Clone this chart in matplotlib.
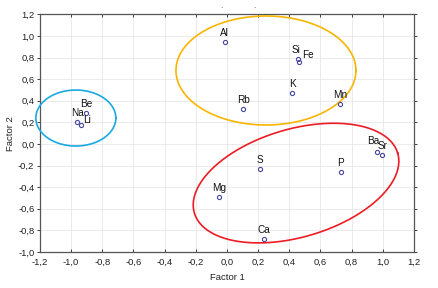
import numpy as np
import matplotlib
matplotlib.use('Agg')
import matplotlib.pyplot as plt

plt.rcParams['font.family'] = ['Liberation Sans', 'DejaVu Sans']

# factor loadings
elements = ['Be', 'Na', 'Li', 'Al', 'Si', 'Fe', 'K', 'Rb', 'Mn',
            'Ba', 'Sr', 'S', 'P', 'Mg', 'Ca']
factor1 = [-0.905, -0.96, -0.94, -0.015, 0.456, 0.462, 0.42, 0.103, 0.725,
           0.965, 0.997, 0.21, 0.73, -0.05, 0.237]
factor2 = [0.29, 0.20, 0.18, 0.94, 0.79, 0.76, 0.47, 0.325, 0.37,
           -0.076, -0.10, -0.23, -0.26, -0.495, -0.88]

# label offsets (points), default is straight above
label_offsets = {'Li': (4.5, 3.5), 'Si': (-1.2, 6.5), 'Fe': (6.4, 5.2),
                 'Ba': (-3.3, 8.0)}

# group outlines: centre (data), semi-axes (pixels), angle (deg), colour
groups = [
    ((-0.97, 0.24), 40, 28, 0, '#1ba9e1'),
    ((0.25, 0.68), 90, 54.5, 0, '#f7b500'),
    ((0.443, -0.362), 106, 54, 16.4, '#ec1c24'),
]

xticks = np.arange(-1.2, 1.21, 0.2)
yticks = np.arange(-1.0, 1.21, 0.2)


def fmt(v):
    return '{:.1f}'.format(v).replace('.', ',').replace('-0,0', '0,0')


fig = plt.figure(figsize=(4.38, 2.88), dpi=100)
ax = fig.add_axes([0.0913, 0.125, 0.8539, 0.8253])
ax.set_xlim(-1.2, 1.2)
ax.set_ylim(-1.0, 1.2)

# pixels per data unit, for drawing ellipses in screen shape
sx = 0.8539 * 438 / 2.4
sy = 0.8253 * 288 / 2.2
t = np.linspace(0, 2 * np.pi, 200)
for (cx, cy), a, b, ang, col in groups:
    th = np.radians(ang)
    dx = a * np.cos(t) * np.cos(th) - b * np.sin(t) * np.sin(th)
    dy = a * np.cos(t) * np.sin(th) + b * np.sin(t) * np.cos(th)
    ax.plot(cx + dx / sx, cy + dy / sy, color=col, lw=1.2, clip_on=False,
            zorder=3)

ax.plot(factor1, factor2, 'o', ms=3.0, mfc='none', mec='#4646a6', mew=0.8,
        zorder=4)
for name, x, y in zip(elements, factor1, factor2):
    off = label_offsets.get(name, (0, 6.5))
    ax.annotate(name, (x, y), xytext=off, textcoords='offset points',
                ha='center', va='center', fontsize=7.2, color='#111111',
                zorder=5)

ax.set_xticks(xticks)
ax.set_yticks(yticks)
ax.set_xticklabels([fmt(v) for v in xticks])
ax.set_yticklabels([fmt(v) for v in yticks])
ax.tick_params(labelsize=6.8, colors='#222222', length=2.5, width=0.6)
ax.tick_params(axis='x', direction='in', top=True, pad=4)
ax.tick_params(axis='y', direction='out', right=True, pad=1.5)
ax.grid(True, color='#e8e8e8', lw=0.6)
ax.set_axisbelow(True)
for s in ax.spines.values():
    s.set_color('#555555')
    s.set_linewidth(0.9)

ax.set_xlabel('Factor 1', fontsize=6.8, color='#222222', labelpad=5)
ax.set_ylabel('Factor 2', fontsize=6.8, color='#222222', labelpad=2)

fig.text(221 / 438, 1 - 7 / 288, '.', fontsize=6, color='#444444',
         ha='center', va='center')
fig.text(254 / 438, 1 - 7 / 288, '.', fontsize=6, color='#444444',
         ha='center', va='center')

fig.savefig('out.png', dpi=100)
